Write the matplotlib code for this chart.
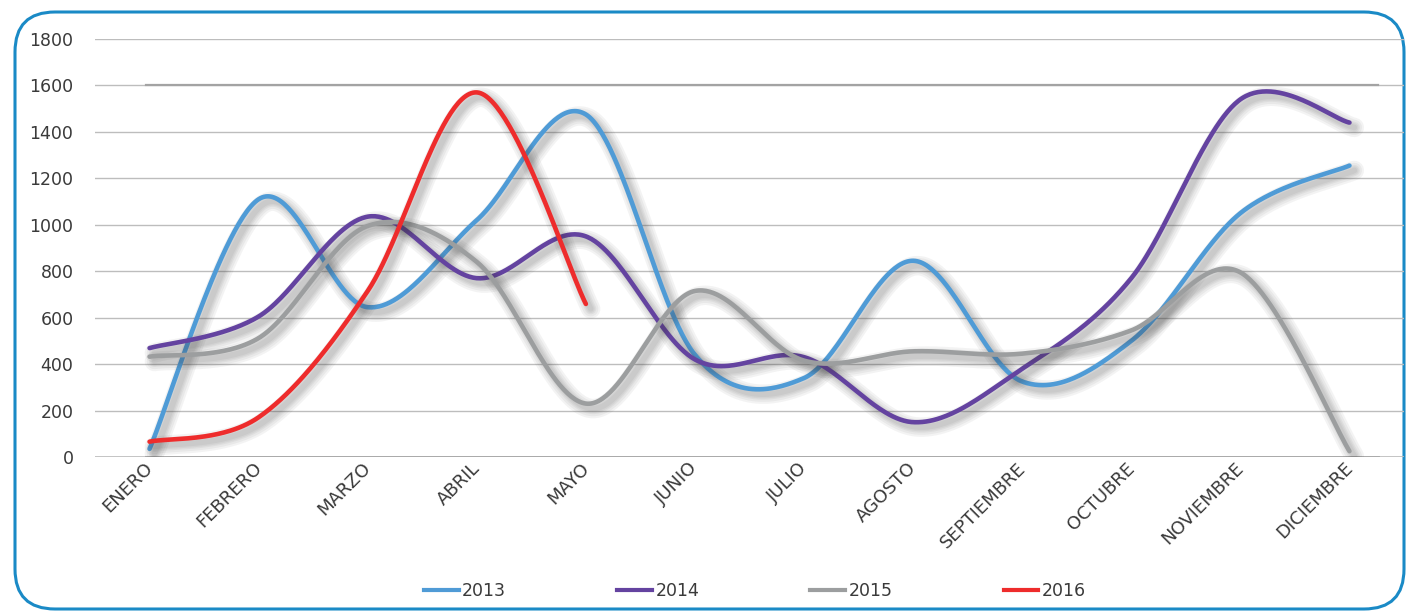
import numpy as np
import matplotlib
matplotlib.use("Agg")
import matplotlib.pyplot as plt
from matplotlib.lines import Line2D
from matplotlib.patches import FancyBboxPatch
import matplotlib.patheffects as pe
import matplotlib.transforms as mtransforms

# ---- data ----
months = ["ENERO", "FEBRERO", "MARZO", "ABRIL", "MAYO", "JUNIO", "JULIO",
          "AGOSTO", "SEPTIEMBRE", "OCTUBRE", "NOVIEMBRE", "DICIEMBRE"]
y2013 = [35, 1110, 645, 1020, 1475, 440, 340, 845, 325, 500, 1050, 1255]
y2014 = [469, 605, 1035, 770, 950, 420, 430, 150, 380, 770, 1540, 1440]
y2015 = [432, 512, 995, 840, 230, 715, 415, 455, 445, 545, 795, 25]
y2016 = [66, 171, 715, 1570, 659]
series_names = ["2013", "2014", "2015", "2016"]
series_values = [y2013, y2014, y2015, y2016]
series_colors = ["#4F9BD6", "#6443A0", "#9C9E9F", "#EE2C2C"]
y_ticks = [0, 200, 400, 600, 800, 1000, 1200, 1400, 1600, 1800]
ref_level = 1600


def smooth(xs, ys, n=60):
    """Catmull-Rom style Bezier smoothing through every point."""
    P = np.column_stack([xs, ys]).astype(float)
    m = len(P)
    ext = np.vstack([P[0], P, P[-1]])
    out = []
    t = np.linspace(0, 1, n)[:, None]
    for i in range(m - 1):
        p0, p1, p2, p3 = ext[i], ext[i + 1], ext[i + 2], ext[i + 3]
        c1 = p1 + (p2 - p0) / 6.0
        c2 = p2 - (p3 - p1) / 6.0
        seg = ((1 - t) ** 3) * p1 + 3 * ((1 - t) ** 2) * t * c1 \
            + 3 * (1 - t) * t ** 2 * c2 + t ** 3 * p2
        out.append(seg if i == 0 else seg[1:])
    out = np.vstack(out)
    return out[:, 0], out[:, 1]


fig = plt.figure(figsize=(14.08, 6.12), dpi=100)
W, H = 1408, 612

# rounded frame around the chart
frame = FancyBboxPatch((15 / W, 3 / H), (1389 / W), (597 / H),
                       boxstyle="round,pad=0,rounding_size=%f" % (40 / W),
                       transform=fig.transFigure, facecolor="none",
                       edgecolor="#1A8AC6", linewidth=2.2,
                       mutation_aspect=W / H, zorder=-1)
fig.patches.append(frame)

ax = fig.add_axes([95 / W, (H - 457) / H, 1309 / W, 418 / H])
ax.set_facecolor("none")
ax.set_xlim(-0.5, len(months) - 0.5)
ax.set_ylim(0, 1800)

for s in ax.spines.values():
    s.set_visible(False)

ax.set_yticks(y_ticks)
ax.set_yticklabels([str(v) for v in y_ticks], fontsize=12.5, color="#3A3A3A")
ax.yaxis.grid(True, color="#BDBDBD", linewidth=1.0)
ax.set_axisbelow(True)
ax.tick_params(axis="y", length=0, pad=15.5)

x = np.arange(len(months))
ax.set_xticks(x)
ax.set_xticklabels(months, rotation=45, ha="right", va="top",
                   rotation_mode="anchor", fontsize=13, color="#3A3A3A")
ax.tick_params(axis="x", length=0, pad=1.5)
shift = mtransforms.ScaledTranslation(-6 / 100, 0, fig.dpi_scale_trans)
for lbl in ax.get_xticklabels():
    lbl.set_transform(lbl.get_transform() + shift)

# darker reference rule and base axis over the category span
span_lo = (146 - 95) / 1309
span_hi = (1378 - 95) / 1309
ax.axhline(ref_level, xmin=span_lo, xmax=span_hi, color="#A3A3A3", lw=1.6, zorder=1)
ax.axhline(0, xmin=0, xmax=1, color="#BDBDBD", lw=1.2, zorder=1)
ax.axhline(0, xmin=span_lo, xmax=span_hi, color="#A8A8A8", lw=2.0, zorder=1)

shadow = [pe.SimpleLineShadow(offset=(3.5, -3.5), shadow_color="#3C3C3C",
                              alpha=0.06, rho=1.0, linewidth=w)
          for w in (14, 11, 8, 6, 4)]
shadow.append(pe.Normal())

handles = []
for name, vals, col in zip(series_names, series_values, series_colors):
    xs = np.arange(len(vals))
    sx, sy = smooth(xs, vals)
    ax.plot(sx, sy, color=col, lw=3.3, solid_capstyle="round",
            solid_joinstyle="round", path_effects=shadow, zorder=3)
    handles.append(Line2D([0], [0], color=col, lw=3.0))

fig.legend(handles, series_names, loc="center",
           bbox_to_anchor=(755 / W, 1 - 591 / H), ncol=4, frameon=False,
           fontsize=12.5, handlelength=2.0, handletextpad=0.2,
           columnspacing=6.4, labelcolor="#3A3A3A")

fig.savefig("out.png", dpi=100)
